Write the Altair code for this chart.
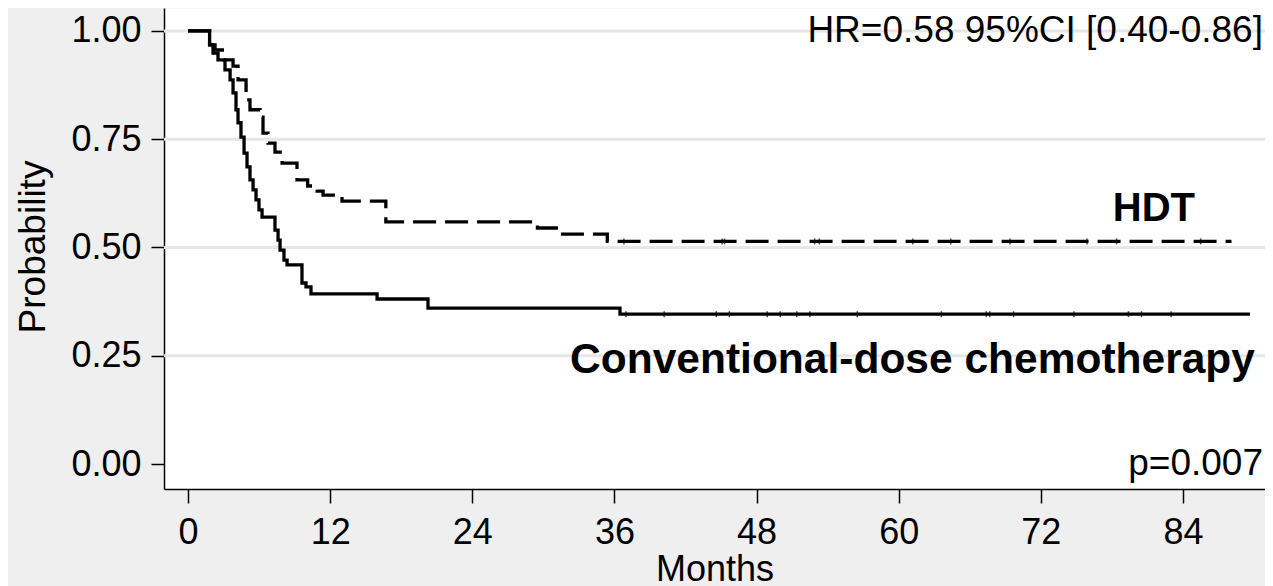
import altair as alt
import numpy as np
import pandas as pd

# ---- data (months, survival probability) ----
hdt_time = [0, 1.82, 2.28, 3.04, 3.80, 4.22, 4.90, 5.23, 6.08, 6.33, 6.75, 7.34,
            7.94, 9.2, 10.1, 10.9, 11.4, 13.0, 16.7, 29.5, 31.4, 35.4, 88.1]
hdt_surv = [1.0, 0.968, 0.956, 0.933, 0.919, 0.887, 0.841, 0.818, 0.801, 0.764, 0.741, 0.72,
            0.695, 0.656, 0.642, 0.63, 0.621, 0.607, 0.559, 0.545, 0.531, 0.514, 0.514]

cdc_time = [0, 1.82, 2.11, 2.53, 3.12, 3.55, 3.80, 4.05, 4.22, 4.47, 4.73, 4.98, 5.23,
            5.49, 5.74, 5.99, 6.25, 7.34, 7.6, 7.77, 8.1, 8.36, 9.62, 9.96, 10.38,
            15.96, 20.26, 36.47, 89.66]
cdc_surv = [1.0, 0.968, 0.949, 0.933, 0.91, 0.887, 0.857, 0.818, 0.788, 0.755, 0.718, 0.686,
            0.656, 0.633, 0.61, 0.587, 0.570, 0.540, 0.517, 0.494, 0.471, 0.46, 0.418,
            0.409, 0.393, 0.381, 0.360, 0.346, 0.346]

hdt_censor = [36.8, 45.1, 45.3, 52.9, 53.3, 61.2, 64.4, 69.4, 75.9, 78.4, 85.5]
cdc_censor = [36.98, 40.2, 44.6, 45.7, 48.9, 50.0, 51.4, 52.5, 56.5, 63.6, 67.4, 67.7,
              69.7, 74.8, 79.4, 80.5, 83.0]

grid_levels = [0.25, 0.5, 0.75, 1.0]
x_ticks = [0, 12, 24, 36, 48, 60, 72, 84]
y_ticks = [0, 0.25, 0.5, 0.75, 1.0]

ann_text = ["HR=0.58 95%CI [0.40-0.86]", "p=0.007"]
ann_x = [90.76, 90.76]
ann_y = [0.975, -0.0254]

lab_text = ["HDT", "Conventional-dose chemotherapy"]
lab_x = [81.55, 90.08]
lab_y = [0.561, 0.21]
lab_align = ["center", "right"]
lab_size = [40, 42.5]

FONT = "Liberation Sans"


def step_value(times, survs, t):
    i = np.searchsorted(np.array(times), t, side="right") - 1
    return survs[i]


hdt_df = pd.DataFrame({"t": hdt_time, "s": hdt_surv})
cdc_df = pd.DataFrame({"t": cdc_time, "s": cdc_surv})
cens_df = pd.DataFrame({
    "t": hdt_censor + cdc_censor,
    "s": [step_value(hdt_time, hdt_surv, t) for t in hdt_censor]
         + [step_value(cdc_time, cdc_surv, t) for t in cdc_censor],
})
grid_df = pd.DataFrame({"y": grid_levels})
ann_df = pd.DataFrame({"t": ann_x, "s": ann_y, "label": ann_text})

xscale = alt.Scale(domain=[-2.03, 90.93], nice=False, zero=False)
yscale = alt.Scale(domain=[-0.0577, 1.053], nice=False, zero=False)

xaxis = alt.Axis(values=x_ticks, title="Months", grid=False, tickSize=14, labelPadding=12,
                 titleX=550.5, titleY=91, titleAlign="center", titleBaseline="alphabetic",
                 titleFontSize=36)
yaxis = alt.Axis(values=y_ticks, format=".2f", title="Probability", grid=False, tickSize=13,
                 labelPadding=10, titleAngle=270, titleX=-120, titleY=238.5,
                 titleAlign="center", titleBaseline="alphabetic", titleFontSize=37)

grid = alt.Chart(grid_df).mark_rule(color="#e6e6e6", strokeWidth=3).encode(
    y=alt.Y("y:Q", scale=yscale, axis=yaxis)
)

hdt_line = alt.Chart(hdt_df).mark_line(
    interpolate="step-after", color="black", strokeWidth=3.3, strokeDash=[23, 9]
).encode(
    x=alt.X("t:Q", scale=xscale, axis=xaxis),
    y=alt.Y("s:Q", scale=yscale, axis=yaxis),
)

cdc_line = alt.Chart(cdc_df).mark_line(
    interpolate="step-after", color="black", strokeWidth=3.3
).encode(
    x=alt.X("t:Q", scale=xscale, axis=xaxis),
    y=alt.Y("s:Q", scale=yscale, axis=yaxis),
)

censor = alt.Chart(cens_df).mark_tick(
    color="black", orient="vertical", size=6, thickness=1.5
).encode(
    x=alt.X("t:Q", scale=xscale),
    y=alt.Y("s:Q", scale=yscale),
)

ann = alt.Chart(ann_df).mark_text(
    font=FONT, fontSize=37, align="right", baseline="alphabetic", color="black"
).encode(
    x=alt.X("t:Q", scale=xscale),
    y=alt.Y("s:Q", scale=yscale),
    text="label:N",
)

labels = []
for txt, lx, ly, la, ls in zip(lab_text, lab_x, lab_y, lab_align, lab_size):
    d = pd.DataFrame({"t": [lx], "s": [ly], "label": [txt]})
    labels.append(
        alt.Chart(d).mark_text(
            font=FONT, fontSize=ls, fontWeight="bold", align=la,
            baseline="alphabetic", color="black"
        ).encode(
            x=alt.X("t:Q", scale=xscale),
            y=alt.Y("s:Q", scale=yscale),
            text="label:N",
        )
    )

chart = alt.layer(grid, hdt_line, cdc_line, censor, ann, *labels).properties(
    width=1101,
    height=481,
    autosize=alt.AutoSizeParams(type="none"),
    padding={"left": 156, "top": 0, "right": 0, "bottom": 97},
    background="#efefef",
).configure_view(
    fill="white", strokeOpacity=0
).configure_axis(
    labelFont=FONT, titleFont=FONT, labelFontSize=36, labelColor="black",
    titleColor="black", titleFontWeight="normal", domainColor="black",
    domainWidth=1.5, tickColor="black", tickWidth=1.5, labelFlush=False,
    labelOverlap=False,
)

chart.save("out.html", embed_options={"renderer": "svg", "actions": False})
